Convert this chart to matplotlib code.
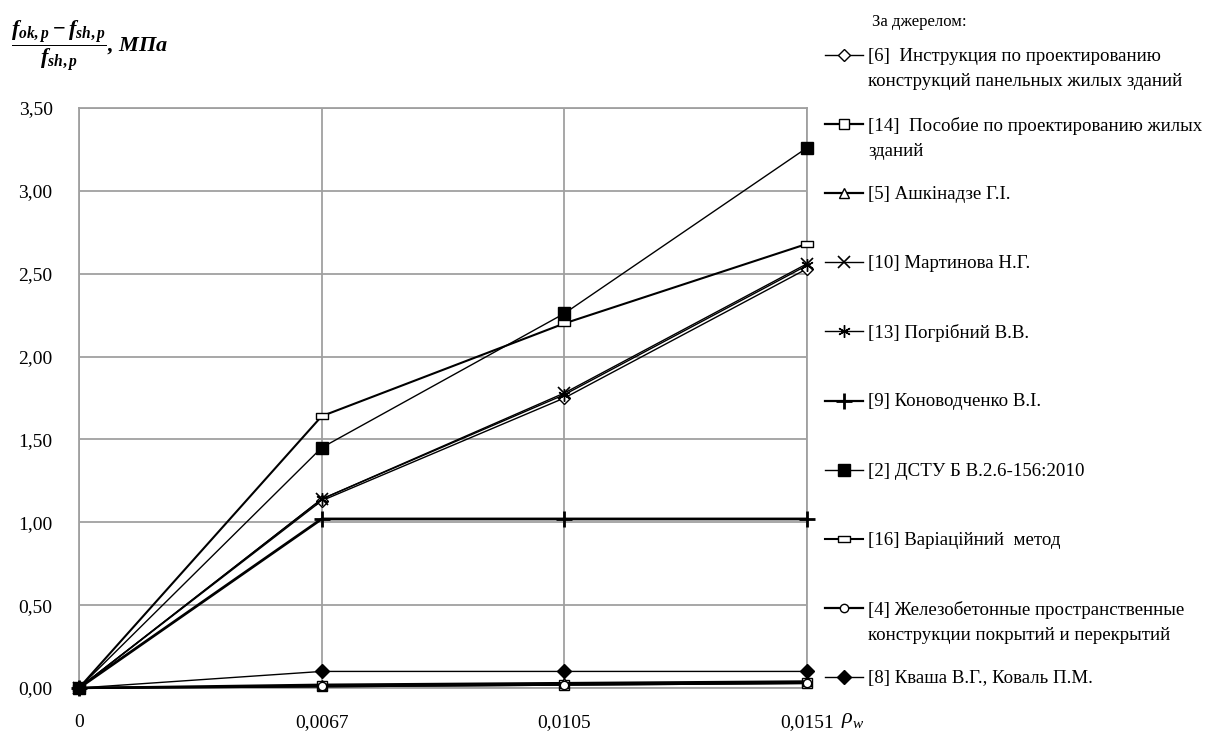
import numpy as np
import matplotlib
matplotlib.use("Agg")
import matplotlib.pyplot as plt
from matplotlib.lines import Line2D
from matplotlib.path import Path

plt.rcParams['font.family'] = ['Liberation Serif', 'DejaVu Serif']
plt.rcParams['mathtext.fontset'] = 'custom'
plt.rcParams['mathtext.it'] = 'Liberation Serif:italic:bold'
plt.rcParams['mathtext.rm'] = 'Liberation Serif:bold'
plt.rcParams['mathtext.bf'] = 'Liberation Serif:bold'

# ---- data ----
categories = ["0", "0,0067", "0,0105", "0,0151"]
y_ticks = [0.0, 0.5, 1.0, 1.5, 2.0, 2.5, 3.0, 3.5]
y_tick_labels = ["0,00", "0,50", "1,00", "1,50", "2,00", "2,50", "3,00", "3,50"]

s6 = [0.00, 1.13, 1.75, 2.53]
s14 = [0.00, 0.01, 0.02, 0.03]
s5 = [0.00, 0.02, 0.03, 0.04]
s10 = [0.00, 1.14, 1.78, 2.56]
s13 = [0.00, 1.14, 1.77, 2.55]
s9 = [0.00, 1.02, 1.02, 1.02]
s2 = [0.00, 1.45, 2.26, 3.26]
s16 = [0.00, 1.64, 2.20, 2.68]
s4 = [0.00, 0.01, 0.02, 0.03]
s8 = [0.00, 0.10, 0.10, 0.10]

labels = [
    "[6]  Инструкция по проектированию\nконструкций панельных жилых зданий",
    "[14]  Пособие по проектированию жилых\nзданий",
    "[5] Ашкінадзе Г.І.",
    "[10] Мартинова Н.Г.",
    "[13] Погрібний В.В.",
    "[9] Коноводченко В.І.",
    "[2] ДСТУ Б В.2.6-156:2010",
    "[16] Варіаційний  метод",
    "[4] Железобетонные пространственные\nконструкции покрытий и перекрытий",
    "[8] Кваша В.Г., Коваль П.М.",
]
legend_title = "За джерелом:"

rect_marker = Path([(-1, -0.45), (1, -0.45), (1, 0.45), (-1, 0.45), (-1, -0.45)],
                   [Path.MOVETO, Path.LINETO, Path.LINETO, Path.LINETO, Path.CLOSEPOLY])

series = [s6, s14, s5, s10, s13, s9, s2, s16, s4, s8]
styles = [
    dict(marker='D', ms=6, mfc='white', mec='black', mew=1.0, lw=1.0),
    dict(marker='s', ms=7, mfc='white', mec='black', mew=1.0, lw=1.6),
    dict(marker='^', ms=7, mfc='white', mec='black', mew=1.0, lw=1.6),
    dict(marker='x', ms=9, mfc='none', mec='black', mew=1.2, lw=1.0),
    dict(marker=(6, 2, 0), ms=9, mfc='none', mec='black', mew=1.0, lw=1.0),
    dict(marker='+', ms=11, mfc='none', mec='black', mew=2.0, lw=2.0),
    dict(marker='s', ms=8, mfc='black', mec='black', mew=1.0, lw=1.0),
    dict(marker=rect_marker, ms=9, mfc='white', mec='black', mew=1.0, lw=1.5),
    dict(marker='o', ms=6, mfc='white', mec='black', mew=1.0, lw=1.6),
    dict(marker='D', ms=7, mfc='black', mec='black', mew=1.0, lw=1.0),
]

W, H = 1220, 737
fig = plt.figure(figsize=(W / 100, H / 100), dpi=100)
ax = fig.add_axes([79 / W, 1 - 688 / H, (807 - 79) / W, (688 - 108) / H])

x = np.arange(len(categories))
grid_col = '#a0a0a0'
for yv in y_ticks:
    ax.axhline(yv, color=grid_col, lw=1.3, zorder=1)
for xv in x:
    ax.axvline(xv, color=grid_col, lw=1.3, zorder=1)

for k, (vals, st) in enumerate(zip(series, styles)):
    ax.plot(x, vals, color='black', clip_on=False, zorder=3 + k * 0.01, **st)

ax.set_xlim(0, len(categories) - 1)
ax.set_ylim(0, 3.5)
ax.set_xticks(x)
ax.set_xticklabels(categories, fontsize=14)
ax.set_yticks(y_ticks)
ax.set_yticklabels(y_tick_labels, fontsize=14)
ax.tick_params(axis='both', length=0)
ax.tick_params(axis='y', pad=19)
ax.tick_params(axis='x', pad=19)
for sp in ax.spines.values():
    sp.set_color(grid_col)
    sp.set_linewidth(1.3)

# y-axis label (formula)
fig.text(11 / W, 1 - 46 / H,
         r'$\dfrac{f_{ok,p}-f_{sh,p}}{f_{sh,p}}$, МПа',
         fontsize=16, fontstyle='italic', fontweight='bold', va='center', ha='left')

# x-axis symbol
fig.text(842 / W, 1 - 718 / H, 'ρ', fontsize=16, fontstyle='italic', va='center', ha='left')
fig.text(853 / W, 1 - 725 / H, 'w', fontsize=11, fontstyle='italic', va='center', ha='left')

# legend (manual)
fig.text(872 / W, 1 - 22 / H, legend_title, fontsize=12, va='center', ha='left')
for i, (lab, st) in enumerate(zip(labels, styles)):
    yc = 55 + i * 69.1
    yf = 1 - yc / H
    fig.add_artist(Line2D([825 / W, 863 / W], [yf, yf], color='black',
                          lw=min(st['lw'], 1.6), transform=fig.transFigure))
    mst = {k: v for k, v in st.items() if k != 'lw'}
    fig.add_artist(Line2D([844 / W], [yf], color='black', lw=0,
                          transform=fig.transFigure, **mst))
    fig.text(868 / W, 1 - (yc - 7) / H, lab, fontsize=13.6, va='top', ha='left',
             linespacing=1.6)

fig.savefig('out.png', dpi=100)
